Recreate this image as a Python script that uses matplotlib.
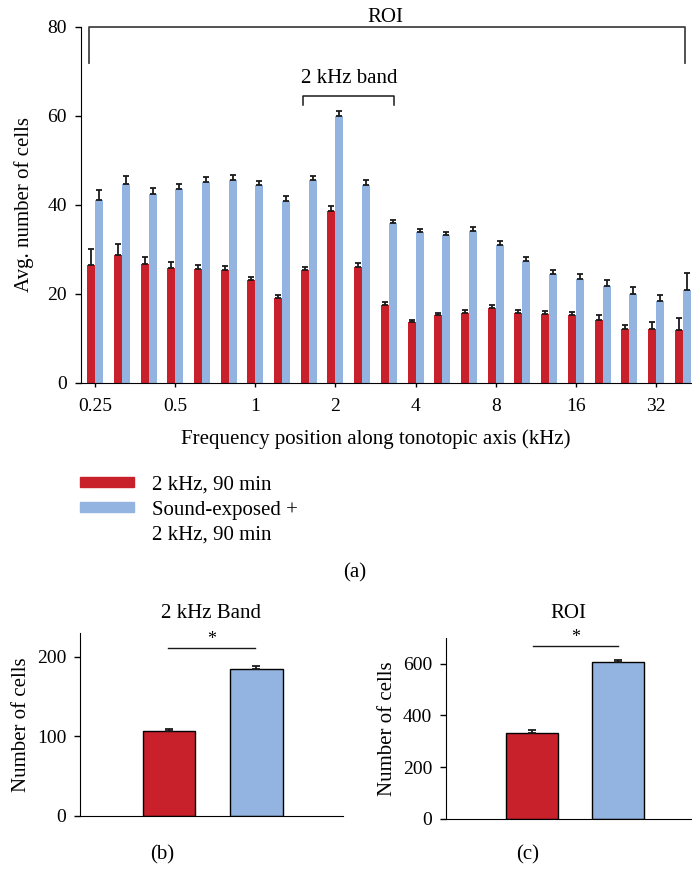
import numpy as np
import matplotlib
matplotlib.use("Agg")
import matplotlib.pyplot as plt
from matplotlib.patches import Patch

plt.rcParams['font.family'] = ['Liberation Serif', 'DejaVu Serif']
plt.rcParams['font.size'] = 15
plt.rcParams['axes.titlesize'] = 15
plt.rcParams['xtick.labelsize'] = 14
plt.rcParams['ytick.labelsize'] = 14

red = '#C9212B'
blue = '#93B4E0'
ink = '#1a1a1a'

# panel (a): 23 positions along the tonotopic axis
tick_labels = ['0.25', '0.5', '1', '2', '4', '8', '16', '32']
ctrl = [26.5, 28.6, 26.7, 25.8, 25.4, 25.2, 23.0, 18.9, 25.2, 38.6, 25.9, 17.4,
        13.6, 15.1, 15.7, 16.7, 15.6, 15.3, 15.1, 14.1, 12.1, 12.0, 11.8]
ctrl_err = [3.6, 2.6, 1.6, 1.3, 1.0, 1.0, 0.8, 0.7, 0.8, 1.0, 0.9, 0.6,
            0.5, 0.5, 0.7, 0.7, 0.7, 0.8, 0.8, 1.1, 0.9, 1.5, 2.6]
expo = [41.1, 44.7, 42.3, 43.5, 45.0, 45.5, 44.4, 40.9, 45.5, 60.0, 44.4, 35.9,
        33.8, 33.1, 34.0, 30.9, 27.2, 24.4, 23.3, 21.8, 20.0, 18.3, 20.9]
expo_err = [2.2, 1.8, 1.5, 1.2, 1.2, 1.1, 0.9, 1.0, 1.0, 1.1, 1.1, 0.7,
            0.7, 0.8, 0.9, 0.8, 0.9, 0.8, 1.0, 1.2, 1.5, 1.4, 3.7]

# panels (b) and (c)
band_vals = [106.8, 184.7]
band_err = [2.9, 4.1]
roi_vals = [333.6, 605.0]
roi_err = [10.1, 10.0]

fig = plt.figure(figsize=(6.92, 8.69), dpi=100)

ax = fig.add_axes([0.117, 0.5598, 0.883, 0.4097])
x = np.arange(len(ctrl))
w = 0.3
ax.bar(x - w / 2, ctrl, w, color=red)
ax.bar(x + w / 2, expo, w, color=blue)
ax.errorbar(x - w / 2, ctrl, yerr=[np.zeros(len(ctrl)), ctrl_err], fmt='none',
            ecolor=ink, elinewidth=1.3, capsize=2.2, capthick=1.3)
ax.errorbar(x + w / 2, expo, yerr=[np.zeros(len(expo)), expo_err], fmt='none',
            ecolor=ink, elinewidth=1.3, capsize=2.2, capthick=1.3)
ax.set_xlim(-0.53, 22.35)
ax.set_ylim(0, 80)
ax.set_yticks([0, 20, 40, 60, 80])
ax.set_xticks(x[::3])
ax.set_xticklabels(tick_labels)
ax.set_ylabel('Avg. number of cells', labelpad=10)
ax.set_xlabel('Frequency position along tonotopic axis (kHz)')
ax.xaxis.set_label_coords(0.483, -0.131)
ax.spines[['top', 'right']].set_visible(False)
ax.tick_params(axis='x', length=3, width=1, pad=8)
ax.tick_params(axis='y', length=4, width=1, pad=6)

# brackets
ax.plot([-0.235, -0.235, 22.1, 22.1], [71.9, 80, 80, 71.9], color='#444444',
        lw=1.3, clip_on=False)
ax.text(10.85, 82.0, 'ROI', ha='center', va='center')
ax.plot([7.79, 7.79, 11.2, 11.2], [62.4, 64.3, 64.3, 62.4], color=ink,
        lw=1.1, clip_on=False)
ax.text(9.5, 68.3, '2 kHz band', ha='center', va='center')

handles = [Patch(color=red), Patch(color=blue), Patch(color='none')]
labels = ['2 kHz, 90 min', 'Sound-exposed +', '2 kHz, 90 min']
fig.legend(handles, labels, loc='upper left', bbox_to_anchor=(0.1163, 0.4529),
           frameon=False, handlelength=2.55, handleheight=0.4,
           handletextpad=0.9, labelspacing=0.3, borderpad=0, borderaxespad=0)
fig.text(0.513, 1 - 573 / 869, '(a)', ha='center', va='center')


def small_panel(rect, vals, errs, ylim, yticks, sig_y, sig_x, title, pad):
    a = fig.add_axes(rect)
    pos = np.arange(len(vals))
    a.bar(pos, vals, 0.6, color=[red, blue], edgecolor='black', linewidth=1.0)
    a.errorbar(pos, vals, yerr=[np.zeros(len(vals)), errs], fmt='none',
               ecolor=ink, elinewidth=1.3, capsize=3, capthick=1.3)
    a.set_ylim(*ylim)
    a.set_yticks(yticks)
    a.set_xticks([])
    a.set_ylabel('Number of cells')
    a.set_title(title, pad=pad)
    a.spines[['top', 'right']].set_visible(False)
    a.tick_params(length=4, width=1, pad=6)
    a.plot(sig_x, [sig_y, sig_y], color=ink, lw=1.0)
    a.text(np.mean(sig_x), sig_y, '*', ha='center', va='bottom', fontsize=13)
    return a


axb = small_panel([0.1156, 0.061, 0.380, 0.2106], band_vals, band_err,
                  (0, 230), [0, 100, 200], 211.5, [-0.01, 0.98], '2 kHz Band', 11)
axb.set_xlim(-1.02, 1.99)
axc = small_panel([0.6445, 0.0579, 0.354, 0.208], roi_vals, roi_err,
                  (0, 700), [0, 200, 400, 600], 668, [0.01, 1.0], 'ROI', 14.5)
axc.set_xlim(-1.0, 1.85)
fig.text(0.234, 1 - 855 / 869, '(b)', ha='center', va='center')
fig.text(0.763, 1 - 855 / 869, '(c)', ha='center', va='center')

fig.savefig('out.png', dpi=100)
